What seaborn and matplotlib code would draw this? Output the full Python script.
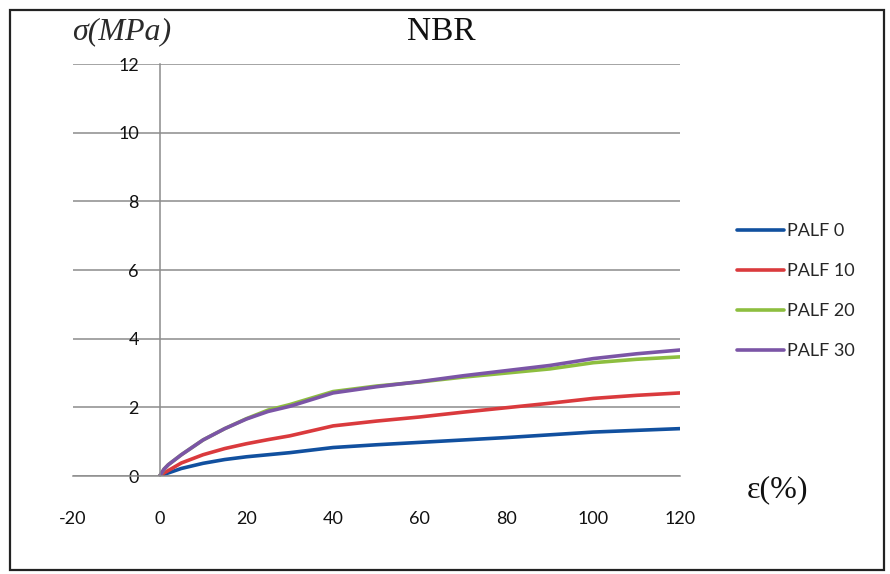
import pandas as pd
import matplotlib.pyplot as plt
import seaborn as sns
from matplotlib.patches import Rectangle

# strain (%) and stress (MPa)
strain = [0, 1, 2, 5, 10, 15, 20, 25, 30, 40, 50, 60, 70, 80, 90, 100, 110, 120]
palf_0 = [0, 0.05, 0.09, 0.22, 0.37, 0.48, 0.56, 0.62, 0.68, 0.83, 0.91, 0.98, 1.05, 1.12, 1.20, 1.28, 1.33, 1.38]
palf_10 = [0, 0.09, 0.16, 0.38, 0.62, 0.80, 0.94, 1.06, 1.17, 1.46, 1.60, 1.72, 1.86, 1.99, 2.12, 2.26, 2.35, 2.42]
palf_20 = [0, 0.20, 0.33, 0.62, 1.05, 1.38, 1.67, 1.92, 2.08, 2.46, 2.62, 2.74, 2.88, 3.00, 3.12, 3.30, 3.40, 3.47]
palf_30 = [0, 0.20, 0.33, 0.62, 1.05, 1.38, 1.66, 1.88, 2.03, 2.42, 2.60, 2.75, 2.92, 3.07, 3.22, 3.42, 3.56, 3.67]

series_names = ["PALF 0", "PALF 10", "PALF 20", "PALF 30"]
colors = ["#11509F", "#DA3A3D", "#8DBE3F", "#7B55A6"]

x_ticks = [-20, 0, 20, 40, 60, 80, 100, 120]
y_ticks = [0, 2, 4, 6, 8, 10, 12]


def build_frame():
    """Long-form table for seaborn."""
    frames = []
    for name, values in zip(series_names, [palf_0, palf_10, palf_20, palf_30]):
        frames.append(pd.DataFrame({"strain": strain, "stress": values, "series": name}))
    return pd.concat(frames, ignore_index=True)


def main():
    sns.set_style("white")
    plt.rcParams['font.family'] = ['Lato', 'DejaVu Sans']
    plt.rcParams['axes.unicode_minus'] = False

    data = build_frame()
    grid_gray = "#8c8c8c"

    fig = plt.figure(figsize=(8.9, 5.74), dpi=100)
    ax = fig.add_axes([0.082, 0.1707, 0.682, 0.7178])

    sns.lineplot(data=data, x="strain", y="stress", hue="series",
                 hue_order=series_names, palette=colors, linewidth=2.6,
                 errorbar=None, ax=ax)

    ax.set_xlim(-20, 120)
    ax.set_ylim(0, 12)
    ax.set_xticks(x_ticks)
    ax.set_yticks(y_ticks)
    ax.set_xlabel("")
    ax.set_ylabel("")

    ax.yaxis.grid(True, color=grid_gray, linewidth=1.1)
    ax.xaxis.grid(False)
    ax.set_axisbelow(True)

    for side in ["top", "right"]:
        ax.spines[side].set_visible(False)
    ax.spines["left"].set_position(("data", 0))
    ax.spines["left"].set_color(grid_gray)
    ax.spines["left"].set_linewidth(1.1)
    ax.spines["bottom"].set_color(grid_gray)
    ax.spines["bottom"].set_linewidth(1.1)

    ax.tick_params(axis="y", length=0, pad=15, labelsize=13, labelcolor="#111111")
    ax.tick_params(axis="x", length=9, width=1.1, color=grid_gray, direction="out",
                   pad=16, labelsize=13, labelcolor="#111111")

    ax.legend(handles=ax.get_legend_handles_labels()[0], labels=series_names,
              loc="center left", bbox_to_anchor=(0.828, 0.493),
              bbox_transform=fig.transFigure, frameon=False, fontsize=13,
              handlelength=2.6, handletextpad=0.2, labelspacing=1.33,
              borderpad=0, borderaxespad=0)

    # titles and axis names in serif, like the original
    fig.text(441 / 890, 1 - 32 / 574, "NBR", ha="center", va="center",
             family="Liberation Serif", fontsize=24, color="#111111")
    fig.text(72 / 890, 1 - 32 / 574, "σ(MPa)", ha="left", va="center",
             family="Liberation Serif", style="italic", fontsize=23, color="#2a2a2a")
    fig.text(778 / 890, 1 - 490 / 574, "ε(%)", ha="center", va="center",
             family="Liberation Serif", fontsize=23, color="#111111")

    # outer frame of the chart area
    fig.patches.append(Rectangle((10 / 890, 4 / 574), 874 / 890, 560 / 574,
                                 transform=fig.transFigure, fill=False,
                                 edgecolor="#222222", linewidth=1.6))

    fig.savefig("out.png", dpi=100)


if __name__ == "__main__":
    main()
